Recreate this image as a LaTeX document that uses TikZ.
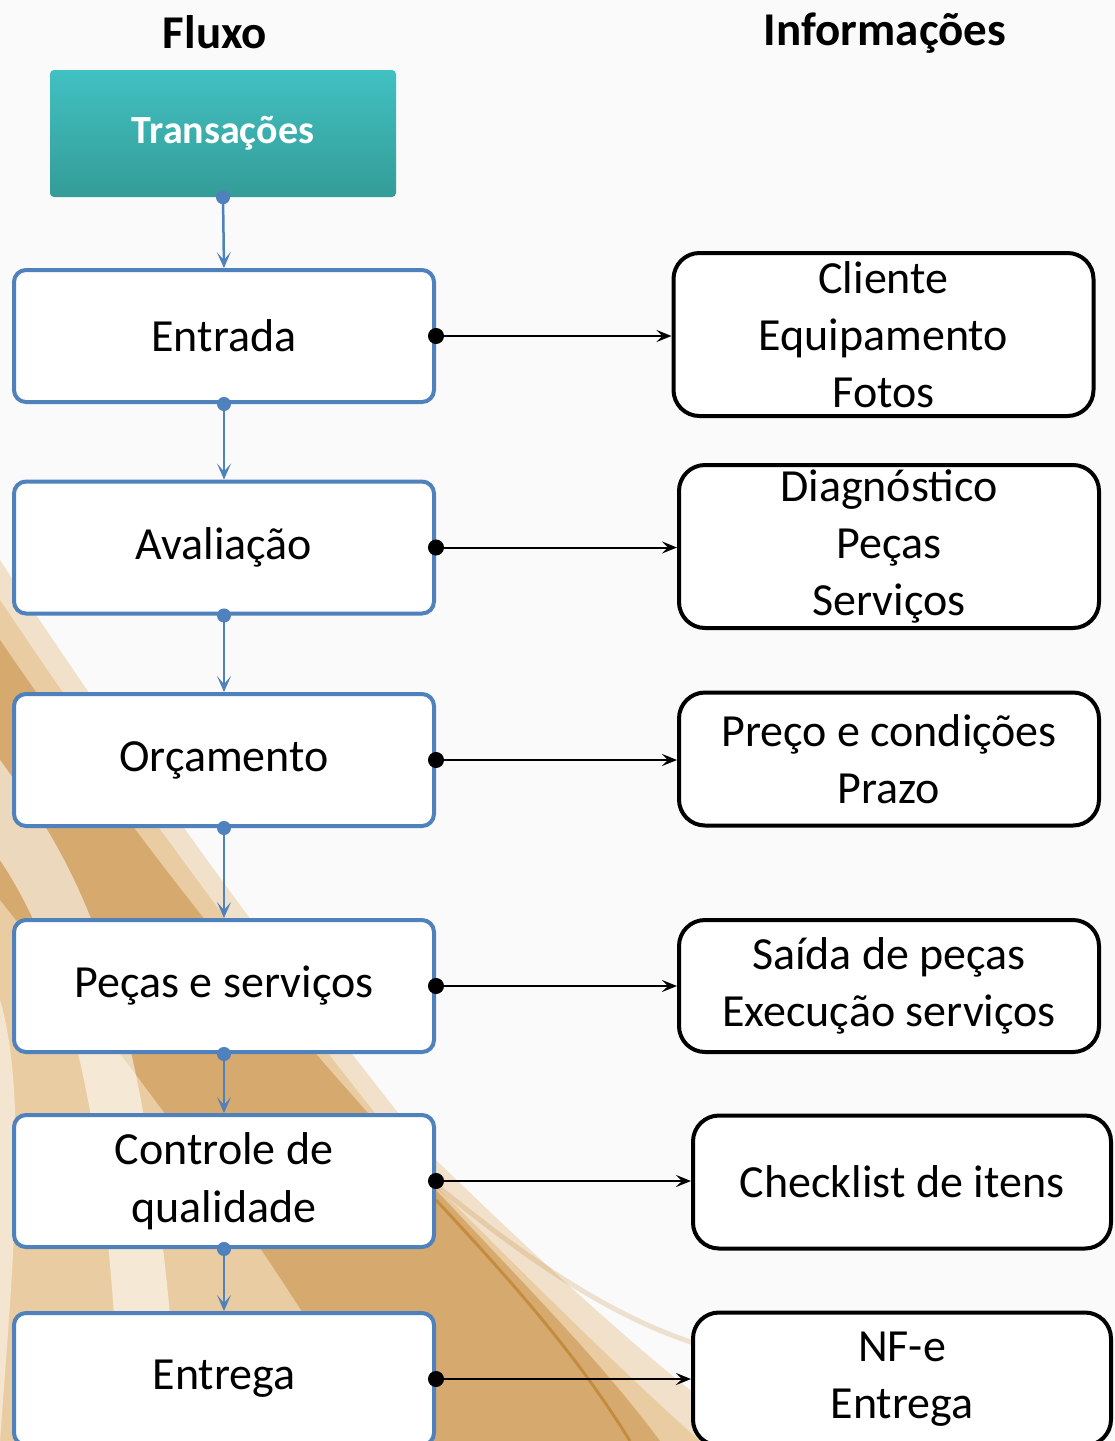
\documentclass[tikz,border=0pt]{standalone}
\usepackage{fontspec}
\setmainfont{Carlito}
\usepackage{tikz}
\usetikzlibrary{arrows.meta,positioning,calc}

\definecolor{fluxblue}{HTML}{4F81BD}
\definecolor{tealtop}{HTML}{41C1C2}
\definecolor{tealbot}{HTML}{349C97}
\definecolor{goldA}{HTML}{DDA75C}
\definecolor{goldB}{HTML}{B9791F}

\begin{document}
\begin{tikzpicture}[x=1pt,y=-1pt,
	fluxo/.style={draw=fluxblue, line width=4pt, fill=white, rounded corners=12pt,
		minimum width=420pt, minimum height=132pt, inner sep=0pt, align=center,
		font=\fontsize{46}{58}\selectfont},
	info/.style={draw=black, line width=4pt, fill=white, rounded corners=26pt,
		minimum width=420pt, inner sep=0pt, align=center,
		font=\fontsize{46}{57}\selectfont},
	titulo/.style={font=\fontsize{47}{56}\selectfont\bfseries},
	seta/.style={draw=fluxblue, line width=2.5pt, shorten <=-7pt,
		{Circle[length=14pt]}-{Stealth[length=16pt,width=14pt,inset=8pt]}},
	liga/.style={draw=black, line width=2pt, shorten <=-8pt,
		{Circle[length=16pt]}-{Stealth[length=15pt,width=12pt,inset=6pt]}}]
	\useasboundingbox (0,0) rectangle (1115,1441);
	\fill[white!98!black] (0,0) rectangle (1115,1441);

	% fundo dourado
	\fill[goldA, opacity=.3] (0,560) .. controls (150,790) and (330,1030) .. (436,1160) .. controls (560,1280) and (680,1390) .. (760,1441) -- (0,1441) -- cycle;
	\fill[goldA, opacity=.35] (0,600) .. controls (140,810) and (300,1020) .. (420,1170) .. controls (520,1270) and (620,1370) .. (700,1441) -- (0,1441) -- cycle;
	\fill[goldB, opacity=.4] (0,640) .. controls (110,800) and (200,920) .. (330,1070) -- (436,1190) .. controls (520,1280) and (600,1360) .. (660,1441) -- (380,1441) .. controls (300,1300) and (200,1150) .. (0,900) -- cycle;
	\fill[white, opacity=.55] (0,760) .. controls (80,870) and (150,980) .. (180,1441) -- (120,1441) .. controls (110,1100) and (60,950) .. (0,860) -- cycle;
	\fill[white, opacity=.5] (0,1000) .. controls (30,1100) and (10,1300) .. (0,1441) -- cycle;
	\draw[goldB, opacity=.6, line width=3pt] (436,1200) .. controls (520,1290) and (580,1360) .. (630,1441);
	\draw[goldB, opacity=.2, line width=5pt] (436,1185) .. controls (540,1270) and (620,1320) .. (700,1345);

	\node[titulo] (t1) at (215,32) {Fluxo};
	\node[titulo] (t2) at (885,33) {Informações};

	\node[top color=tealtop, bottom color=tealbot, rounded corners=4pt,
		minimum width=346pt, minimum height=127pt, text=white,
		font=\fontsize{40}{48}\selectfont\bfseries] (0) at (223,133.5) {Transações};

	\node[fluxo] (1) at (224,336) {Entrada};
	\node[fluxo] (2) at (224,547.5) {Avaliação};
	\node[fluxo] (3) at (224,760) {Orçamento};
	\node[fluxo] (4) at (224,986) {Peças e serviços};
	\node[fluxo] (5) at (224,1181) {Controle de\\qualidade};
	\node[fluxo] (6) at (224,1379) {Entrega};

	\node[info, minimum height=163pt] (7) at (883.5,334.5) {Cliente\\Equipamento\\Fotos};
	\node[info, minimum height=163pt] (8) at (889,546.5) {Diagnóstico\\Peças\\Serviços};
	\node[info, minimum height=133pt] (9) at (889,759) {Preço e condições\\Prazo};
	\node[info, minimum height=132pt] (10) at (889,986) {Saída de peças\\Execução serviços};
	\node[info, minimum height=133pt, minimum width=418pt] (11) at (902,1182) {Checklist de itens};
	\node[info, minimum height=133pt, minimum width=418pt] (12) at (902,1379) {NF-e\\Entrega};

	\path[seta] (0.south) -- (1.north);
	\path[seta] (1.south) -- (2.north);
	\path[seta] (2.south) -- (3.north);
	\path[seta] (3.south) -- (4.north);
	\path[seta] (4.south) -- (5.north);
	\path[seta] (5.south) -- (6.north);

	\path[liga] (1.east) -- (7.west |- 1.east);
	\path[liga] (2.east) -- (8.west |- 2.east);
	\path[liga] (3.east) -- (9.west |- 3.east);
	\path[liga] (4.east) -- (10.west |- 4.east);
	\path[liga] (5.east) -- (11.west |- 5.east);
	\path[liga] (6.east) -- (12.west |- 6.east);
\end{tikzpicture}
\end{document}
